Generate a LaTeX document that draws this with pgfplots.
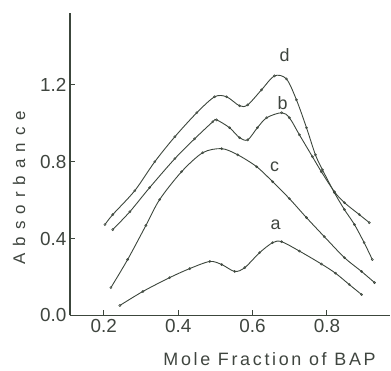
\documentclass[border=0pt]{standalone}
\usepackage{fontspec}
\setmainfont{Liberation Sans}
\newfontfamily\xlabfont[LetterSpace=15]{Liberation Sans}
\newfontfamily\ylabfont[LetterSpace=42]{Liberation Sans}
\usepackage{pgfplots}
\pgfplotsset{compat=1.18}
\definecolor{ink}{HTML}{3C463C}
\definecolor{txt}{HTML}{3F453F}
\begin{document}
\begin{tikzpicture}
\begin{axis}[
  scale only axis,
  width=321bp, height=303bp,
  at={(0,0)}, anchor=south west,
  xmin=0.1087, xmax=0.9705,
  ymin=0, ymax=1.574,
  axis lines=left,
  axis line style={-, line width=1.3pt, color=ink},
  tick style={line width=1pt, color=ink},
  tick align=inside,
  major tick length=5bp,
  xtick={0.2,0.4,0.6,0.8},
  ytick={0,0.4,0.8,1.2},
  /pgf/number format/assume math mode=true,
  /pgf/number format/fixed,
  /pgf/number format/fixed zerofill,
  /pgf/number format/precision=1,
  ticklabel style={font=\fontsize{19}{21}\selectfont, color=txt},
  xlabel={Mole Fraction of BAP},
  ylabel={Absorbance},
  xlabel style={font=\xlabfont\fontsize{18}{20}\selectfont, color=txt, at={(axis description cs:0.623,0)}, anchor=center, yshift=-44bp},
  ylabel style={font=\ylabfont\fontsize{17}{19}\selectfont, color=txt, at={(axis description cs:0,0.4224)}, anchor=center, yshift=51bp},
  cycle list={{ink, mark=o}},
  every axis plot post/.append style={smooth, tension=0.5, line width=0.9pt, color=ink, mark=o, mark size=1.1pt, mark options={line width=0.5pt, fill=white}},
  clip=false,
]
% d
\addplot coordinates {(0.203,0.473) (0.224,0.525) (0.283,0.649) (0.337,0.800) (0.391,0.930) (0.450,1.055) (0.498,1.138) (0.530,1.138) (0.565,1.091) (0.587,1.096) (0.624,1.174) (0.659,1.247) (0.691,1.231) (0.718,1.122) (0.745,0.977) (0.769,0.836) (0.788,0.758) (0.820,0.639) (0.847,0.551) (0.874,0.473) (0.900,0.379) (0.922,0.291)};
% b
\addplot coordinates {(0.224,0.447) (0.270,0.540) (0.323,0.665) (0.391,0.816) (0.444,0.919) (0.493,1.008) (0.503,1.018) (0.538,0.977) (0.565,0.925) (0.587,0.914) (0.613,0.977) (0.638,1.029) (0.678,1.055) (0.699,1.029) (0.726,0.940) (0.761,0.826) (0.785,0.748) (0.820,0.644) (0.847,0.587) (0.887,0.525) (0.914,0.483)};
% c
\addplot coordinates {(0.219,0.145) (0.264,0.291) (0.313,0.468) (0.350,0.603) (0.409,0.748) (0.466,0.847) (0.517,0.868) (0.560,0.836) (0.611,0.774) (0.654,0.696) (0.699,0.608) (0.745,0.509) (0.793,0.410) (0.847,0.301) (0.893,0.229) (0.928,0.171)};
% a
\addplot coordinates {(0.243,0.052) (0.305,0.125) (0.377,0.197) (0.431,0.244) (0.485,0.281) (0.517,0.265) (0.552,0.229) (0.579,0.249) (0.619,0.327) (0.654,0.379) (0.678,0.384) (0.726,0.335) (0.785,0.268) (0.823,0.220) (0.860,0.161) (0.893,0.109)};
\node[font=\fontsize{18}{20}\selectfont, color=txt] at (axis cs:0.686,1.356) {d};
\node[font=\fontsize{18}{20}\selectfont, color=txt] at (axis cs:0.681,1.106) {b};
\node[font=\fontsize{18}{20}\selectfont, color=txt] at (axis cs:0.659,0.774) {c};
\node[font=\fontsize{18}{20}\selectfont, color=txt] at (axis cs:0.662,0.473) {a};
\end{axis}
\path[use as bounding box] (-70bp,-55bp) rectangle (321bp,316bp);
\end{tikzpicture}
\end{document}
